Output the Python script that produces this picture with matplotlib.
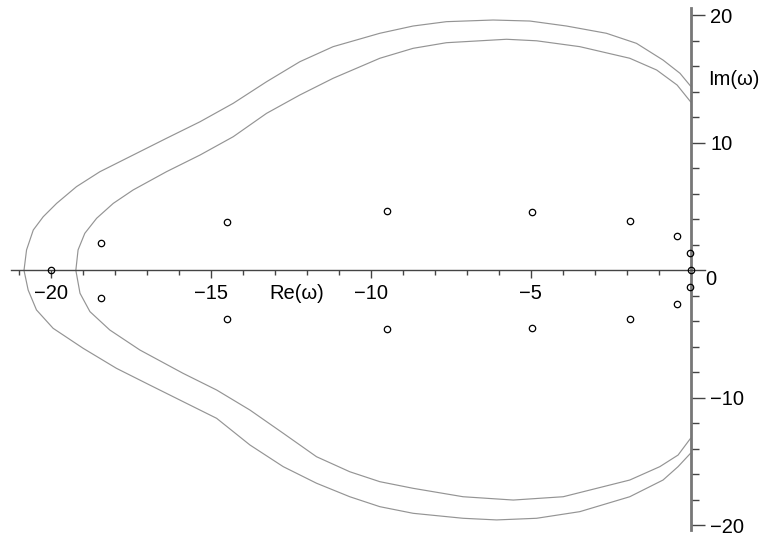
import numpy as np
import matplotlib.pyplot as plt
from matplotlib.ticker import FixedLocator

plt.rcParams["font.family"] = ["Liberation Sans", "DejaVu Sans"]

# eigenvalues (real part, imaginary part)
eig_re = [-20.0, -18.41, -18.41, -14.5, -14.5, -9.5, -9.5, -4.97, -4.97,
          -1.9, -1.9, -0.43, -0.43, -0.02, -0.02, 0.0]
eig_im = [0.0, 2.17, -2.15, 3.81, -3.8, 4.65, -4.63, 4.6, -4.55,
          3.84, -3.8, 2.69, -2.64, 1.38, -1.33, 0.0]

# outer boundary curve, traced from the lower end round to the upper end
outer_re = [0.0, -0.39, -0.86, -1.9, -3.46, -4.81, -6.06, -7.11, -8.67, -9.71,
            -10.65, -11.69, -12.73, -13.77, -14.81, -15.86, -16.9, -17.94,
            -18.98, -19.92, -20.44, -20.7, -20.83,
            -20.75, -20.54, -20.23, -19.81, -19.19, -18.46, -17.42, -16.38,
            -15.33, -14.29, -13.25, -12.21, -11.17, -9.71, -8.67, -7.63,
            -6.17, -5.02, -3.88, -2.63, -1.69, -0.86, -0.33, 0.0]
outer_im = [-14.35, -15.4, -16.45, -17.76, -18.93, -19.45, -19.58, -19.45,
            -19.06, -18.54, -17.76, -16.7, -15.4, -13.7, -11.61, -10.3, -9.0,
            -7.69, -6.12, -4.55, -3.11, -1.55, 0.0,
            1.6, 3.16, 4.2, 5.25, 6.56, 7.73, 9.04, 10.35, 11.65, 13.1, 14.79,
            16.36, 17.54, 18.59, 19.16, 19.5, 19.63, 19.55, 19.16, 18.59, 17.8,
            16.49, 15.45, 14.45]

# inner boundary curve
inner_re = [0.0, -0.39, -0.96, -1.9, -3.98, -5.54, -7.11, -8.67, -9.71,
            -10.65, -11.69, -12.73, -13.77, -14.81, -15.86, -17.21, -18.15,
            -18.77, -19.08, -19.21,
            -19.14, -18.93, -18.56, -18.04, -17.42, -16.38, -15.33, -14.29,
            -13.25, -12.21, -11.17, -9.71, -8.67, -7.63, -5.75, -4.81, -3.46,
            -1.9, -1.06, -0.42, 0.0]
inner_im = [-13.18, -14.49, -15.4, -16.45, -17.76, -18.02, -17.76, -17.1,
            -16.58, -15.8, -14.62, -12.78, -10.96, -9.39, -8.08, -6.25, -4.68,
            -3.24, -1.8, 0.0,
            1.6, 2.9, 4.08, 5.25, 6.3, 7.73, 9.04, 10.48, 12.31, 13.75, 15.06,
            16.63, 17.41, 17.85, 18.12, 18.0, 17.54, 16.63, 15.71, 14.53, 13.22]

x_major = [-20, -15, -10, -5]
y_major = [20, 10, -10, -20]


def main():
    fig = plt.figure(figsize=(7.6, 5.36), dpi=100)
    ax = fig.add_axes([0, 0, 1, 1])
    ax.set_xlim(-21.58, 2.17)
    ax.set_ylim(-20.84, 21.2)

    ax.plot(outer_re, outer_im, color="#949494", lw=0.85, solid_joinstyle="round")
    ax.plot(inner_re, inner_im, color="#949494", lw=0.85, solid_joinstyle="round")
    ax.plot(eig_re, eig_im, ls="none", marker="o", ms=4.6, mfc="none",
            mec="black", mew=0.9, zorder=5)

    # axes crossing at the origin
    ax.spines["left"].set_visible(False)
    ax.spines["top"].set_visible(False)
    ax.spines["bottom"].set_position(("data", 0))
    ax.spines["bottom"].set_bounds(-21.24, 0.45)
    ax.spines["bottom"].set_color("#444444")
    ax.spines["bottom"].set_linewidth(1.0)
    ax.spines["right"].set_position(("data", 0))
    ax.spines["right"].set_bounds(-20.4, 20.6)
    ax.spines["right"].set_color("#777777")
    ax.spines["right"].set_linewidth(2.0)
    ax.yaxis.tick_right()

    ax.xaxis.set_major_locator(FixedLocator(x_major))
    ax.xaxis.set_minor_locator(FixedLocator(np.arange(-21, 0)))
    ax.yaxis.set_major_locator(FixedLocator(y_major))
    ax.yaxis.set_minor_locator(FixedLocator([v for v in range(-18, 20, 2) if v % 10]))

    ax.tick_params(axis="x", which="major", direction="out", length=6, width=1,
                   color="#444444", labelsize=14.5, pad=4)
    ax.tick_params(axis="x", which="minor", direction="out", length=3.5, width=1,
                   color="#444444")
    ax.tick_params(axis="y", which="major", direction="out", length=10, width=1,
                   color="#444444", labelsize=14.5, pad=4)
    ax.tick_params(axis="y", which="minor", direction="out", length=6, width=1,
                   color="#444444")

    ax.text(0.45, -0.76, "0", fontsize=14.5, ha="left", va="center")
    ax.text(-13.15, -1.8, "Re(ω)", fontsize=14.5, ha="left", va="center")
    ax.text(0.54, 15.0, "Im(ω)", fontsize=14.5, ha="left", va="center")

    fig.savefig("out.png", dpi=100)


if __name__ == "__main__":
    main()
